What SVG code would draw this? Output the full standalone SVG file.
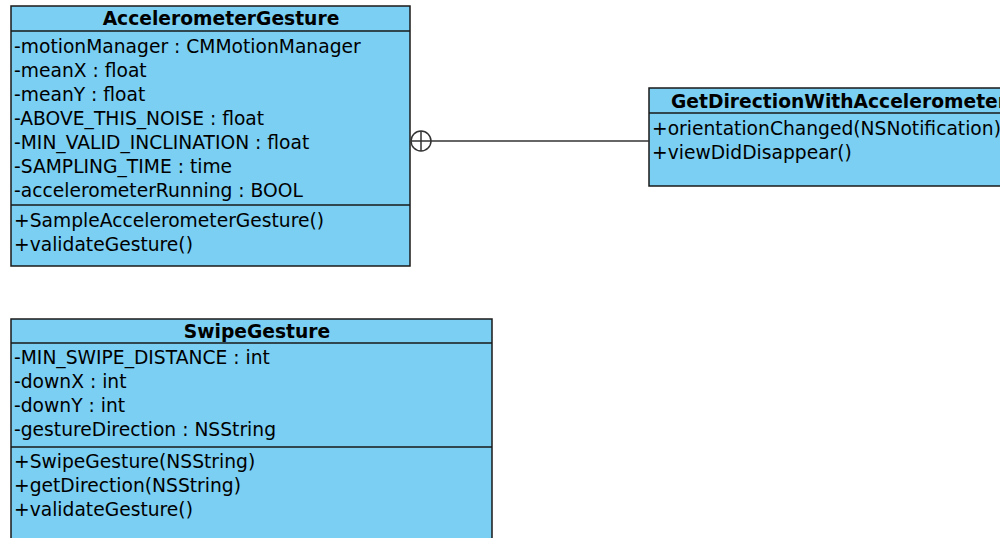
<svg xmlns="http://www.w3.org/2000/svg" width="1000" height="538" viewBox="0 0 1000 538">
<style>
.box{fill:#7acff3;stroke:#1a1a1a;stroke-width:1.5}
.sep{stroke:#1a1a1a;stroke-width:1.5}
.t{font-family:"DejaVu Sans",sans-serif;font-size:18.7px;fill:#000}
.h{font-family:"DejaVu Sans",sans-serif;font-size:18.7px;font-weight:bold;fill:#000;text-anchor:middle}
.c{stroke:#333;stroke-width:1.5;fill:none}
</style>
<rect width="1000" height="538" fill="#fff"/>
<g id="AccelerometerGesture">
<rect class="box" x="11" y="6" width="399" height="260"/>
<line class="sep" x1="11" y1="31" x2="410" y2="31"/>
<line class="sep" x1="11" y1="205" x2="410" y2="205"/>
<text class="h" x="221" y="25">AccelerometerGesture</text>
<text class="t" x="14" y="53">-motionManager : CMMotionManager</text>
<text class="t" x="14" y="77">-meanX : float</text>
<text class="t" x="14" y="101">-meanY : float</text>
<text class="t" x="14" y="125">-ABOVE_THIS_NOISE : float</text>
<text class="t" x="14" y="149">-MIN_VALID_INCLINATION : float</text>
<text class="t" x="14" y="173">-SAMPLING_TIME : time</text>
<text class="t" x="14" y="197">-accelerometerRunning : BOOL</text>
<text class="t" x="14" y="227">+SampleAccelerometerGesture()</text>
<text class="t" x="14" y="251">+validateGesture()</text>
</g>
<g id="GetDirectionWithAccelerometer">
<rect class="box" x="649" y="88" width="360" height="98"/>
<line class="sep" x1="649" y1="113" x2="1009" y2="113"/>
<text class="t" x="671" y="108" font-weight="bold">GetDirectionWithAccelerometer</text>
<text class="t" x="652" y="135">+orientationChanged(NSNotification)</text>
<text class="t" x="652" y="159">+viewDidDisappear()</text>
</g>
<g id="SwipeGesture">
<rect class="box" x="11" y="319" width="481" height="230"/>
<line class="sep" x1="11" y1="343" x2="492" y2="343"/>
<line class="sep" x1="11" y1="447" x2="492" y2="447"/>
<text class="h" x="257" y="338">SwipeGesture</text>
<text class="t" x="14" y="364">-MIN_SWIPE_DISTANCE : int</text>
<text class="t" x="14" y="388">-downX : int</text>
<text class="t" x="14" y="412">-downY : int</text>
<text class="t" x="14" y="436">-gestureDirection : NSString</text>
<text class="t" x="14" y="468">+SwipeGesture(NSString)</text>
<text class="t" x="14" y="492">+getDirection(NSString)</text>
<text class="t" x="14" y="516">+validateGesture()</text>
</g>
<g id="connectors">
<line class="c" x1="431" y1="141" x2="649" y2="141"/>
<circle class="c" cx="421" cy="141" r="10"/>
<line class="c" x1="411" y1="141" x2="431" y2="141"/>
<line class="c" x1="421" y1="131" x2="421" y2="151"/>
</g>
</svg>
